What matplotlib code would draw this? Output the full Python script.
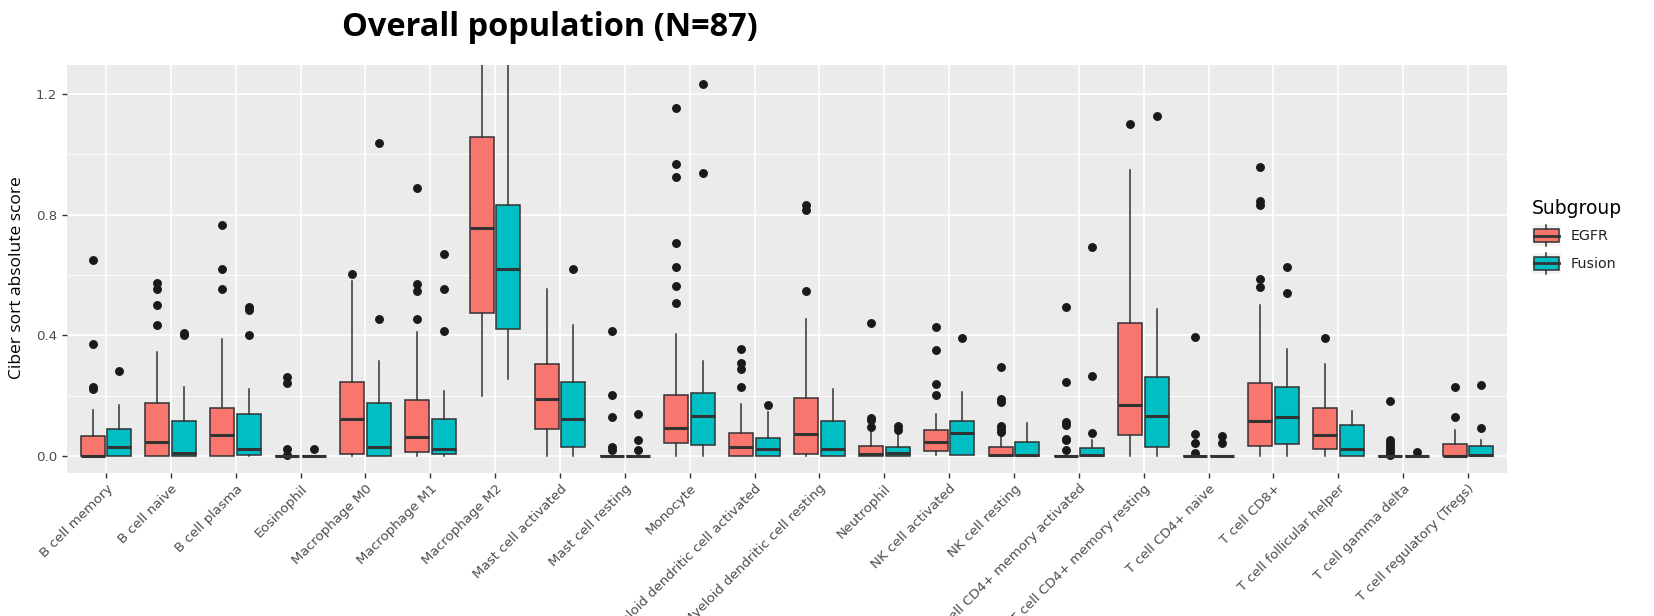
import matplotlib
matplotlib.use("Agg")
import matplotlib.pyplot as plt
from matplotlib.patches import Rectangle, Patch
from matplotlib.lines import Line2D
from matplotlib.legend_handler import HandlerBase
from matplotlib.ticker import MultipleLocator

categories = ["B cell memory", "B cell naive", "B cell plasma", "Eosinophil",
              "Macrophage M0", "Macrophage M1", "Macrophage M2", "Mast cell activated",
              "Mast cell resting", "Monocyte", "Myeloid dendritic cell activated",
              "Myeloid dendritic cell resting", "Neutrophil", "NK cell activated",
              "NK cell resting", "T cell CD4+ memory activated", "T cell CD4+ memory resting",
              "T cell CD4+ naive", "T cell CD8+", "T cell follicular helper",
              "T cell gamma delta", "T cell regulatory (Tregs)"]

groups = ["EGFR", "Fusion"]
group_colors = ["#F8766D", "#00BFC4"]

# EGFR box statistics
egfr_lo  = [0, 0, 0, 0, 0, 0, 0.199, 0, 0, 0, 0, 0, 0, 0.003, 0, 0, 0, 0, 0, 0, 0, 0]
egfr_q1  = [0, 0, 0, 0, 0.007, 0.014, 0.475, 0.091, 0, 0.042, 0, 0.007, 0, 0.018, 0, 0, 0.069, 0, 0.033, 0.022, 0, 0]
egfr_med = [0.0, 0.048, 0.071, 0, 0.122, 0.062, 0.757, 0.188, 0, 0.094, 0.031, 0.072, 0.006, 0.048, 0.003, 0, 0.17, 0, 0.115, 0.069, 0, 0.0]
egfr_q3  = [0.066, 0.175, 0.158, 0, 0.245, 0.186, 1.056, 0.305, 0, 0.201, 0.077, 0.194, 0.034, 0.086, 0.029, 0, 0.442, 0, 0.241, 0.159, 0, 0.04]
egfr_hi  = [0.152, 0.345, 0.389, 0, 0.58, 0.411, 1.45, 0.555, 0, 0.404, 0.172, 0.453, 0.085, 0.141, 0.07, 0, 0.948, 0, 0.502, 0.305, 0, 0.086]
egfr_out = [[0.65, 0.373, 0.23, 0.224],
            [0.575, 0.555, 0.5, 0.433],
            [0.765, 0.62, 0.555],
            [0.263, 0.241, 0.025, 0.003],
            [0.605],
            [0.888, 0.57, 0.546, 0.455],
            [],
            [],
            [0.413, 0.203, 0.13, 0.029, 0.02],
            [1.154, 0.968, 0.926, 0.705, 0.625, 0.564, 0.506],
            [0.354, 0.307, 0.287, 0.23],
            [0.833, 0.815, 0.548],
            [0.442, 0.126, 0.12, 0.095],
            [0.427, 0.351, 0.239, 0.203],
            [0.294, 0.19, 0.18, 0.1, 0.09, 0.08],
            [0.495, 0.245, 0.114, 0.103, 0.058, 0.053, 0.02],
            [1.1],
            [0.396, 0.073, 0.042, 0.009],
            [0.959, 0.846, 0.832, 0.586, 0.561],
            [0.391],
            [0.181, 0.055, 0.045, 0.035, 0.025, 0.015, 0.005],
            [0.23, 0.13]]

# Fusion box statistics
fusion_lo  = [0, 0, 0, 0, 0, 0, 0.254, 0, 0, 0, 0, 0, 0, 0.003, 0, 0, 0, 0, 0, 0, 0, 0]
fusion_q1  = [0, 0, 0.003, 0, 0, 0.007, 0.42, 0.031, 0, 0.036, 0, 0, 0, 0.003, 0, 0, 0.031, 0, 0.04, 0, 0, 0]
fusion_med = [0.029, 0.009, 0.023, 0, 0.029, 0.025, 0.62, 0.122, 0, 0.133, 0.024, 0.024, 0.009, 0.075, 0.003, 0.003, 0.133, 0, 0.13, 0.024, 0, 0.002]
fusion_q3  = [0.091, 0.116, 0.139, 0, 0.175, 0.124, 0.832, 0.245, 0, 0.208, 0.061, 0.117, 0.029, 0.115, 0.046, 0.027, 0.261, 0, 0.23, 0.104, 0, 0.035]
fusion_hi  = [0.168, 0.23, 0.224, 0, 0.316, 0.217, 1.40, 0.433, 0, 0.314, 0.146, 0.224, 0.075, 0.214, 0.11, 0.055, 0.488, 0, 0.356, 0.148, 0, 0.055]
fusion_out = [[0.283],
              [0.409, 0.40],
              [0.495, 0.484, 0.40],
              [0.022],
              [1.039, 0.453],
              [0.67, 0.555, 0.413],
              [],
              [0.62],
              [0.141, 0.055, 0.02],
              [1.232, 0.939],
              [0.17],
              [],
              [0.1, 0.088],
              [0.393],
              [],
              [0.692, 0.267, 0.077],
              [1.127],
              [0.066, 0.044],
              [0.625, 0.541],
              [],
              [0.013],
              [0.236, 0.093]]

title_text = "Overall population (N=87)"
y_label = "Ciber sort absolute score"
legend_title = "Subgroup"
y_ticks = [0.0, 0.4, 0.8, 1.2]

W, H = 1654, 616
fig = plt.figure(figsize=(W / 100, H / 100), dpi=100)
ax = fig.add_axes([67 / W, 1 - 473 / H, (1507 - 67) / W, (473 - 65) / H])
ax.set_facecolor("#EBEBEB")
for s in ax.spines.values():
    s.set_visible(False)

ink = "#333333"


def make_stats(lo, q1, med, q3, hi, out):
    return [dict(whislo=lo[i], q1=q1[i], med=med[i], q3=q3[i], whishi=hi[i], fliers=out[i])
            for i in range(len(lo))]


stats_sets = [make_stats(egfr_lo, egfr_q1, egfr_med, egfr_q3, egfr_hi, egfr_out),
              make_stats(fusion_lo, fusion_q1, fusion_med, fusion_q3, fusion_hi, fusion_out)]
offsets = [-0.205, 0.205]
box_w = 0.37

for gi, st in enumerate(stats_sets):
    pos = [i + offsets[gi] for i in range(len(categories))]
    ax.bxp(st, positions=pos, widths=box_w, patch_artist=True, showcaps=False,
           manage_ticks=False,
           boxprops=dict(facecolor=group_colors[gi], edgecolor=ink, linewidth=1.1),
           medianprops=dict(color=ink, linewidth=2.2, solid_capstyle="butt"),
           whiskerprops=dict(color=ink, linewidth=1.1),
           flierprops=dict(marker="o", markerfacecolor="#1a1a1a", markeredgecolor="#1a1a1a",
                           markersize=5.4, linestyle="none"),
           zorder=3)

ax.set_xlim(-0.6, len(categories) - 0.4)
ax.set_ylim(-0.056, 1.296)
ax.set_yticks(y_ticks)
ax.set_yticklabels([f"{v:.1f}" for v in y_ticks])
ax.yaxis.set_minor_locator(MultipleLocator(0.2))
ax.set_xticks(range(len(categories)))
ax.set_xticklabels(categories, rotation=45, ha="right", rotation_mode="anchor")

ax.grid(which="major", color="white", linewidth=1.2, zorder=0)
ax.grid(which="minor", axis="y", color="white", linewidth=0.6, zorder=0)
ax.set_axisbelow(True)
ax.tick_params(axis="both", which="major", length=3.5, width=1.0, color=ink,
               labelsize=9.6, labelcolor="#4D4D4D")
ax.tick_params(axis="y", which="minor", length=0)
ax.tick_params(axis="x", pad=3)

ax.set_ylabel(y_label, fontsize=12.5, color="black", family=["Open Sans", "DejaVu Sans"])
ax.yaxis.set_label_coords(-0.029, 0.48)

fig.text(550 / W, 1 - 28 / H, title_text, ha="center", va="center", fontsize=23.4,
         fontweight="bold", family=["Open Sans", "DejaVu Sans"])


class BoxHandler(HandlerBase):
    def create_artists(self, legend, orig_handle, xdescent, ydescent, width, height,
                       fontsize, trans):
        fc = orig_handle.get_facecolor()
        x0, y0 = -xdescent, -ydescent
        bg = Rectangle((x0, y0), width, height, facecolor="#F2F2F2", edgecolor="none",
                       transform=trans)
        bx = Rectangle((x0 + 0.06 * width, y0 + 0.2 * height), 0.88 * width, 0.6 * height,
                       facecolor=fc, edgecolor=ink, linewidth=1.1, transform=trans)
        cx = x0 + width / 2
        w1 = Line2D([cx, cx], [y0, y0 + 0.2 * height], color=ink, lw=1.1, transform=trans)
        w2 = Line2D([cx, cx], [y0 + 0.8 * height, y0 + height], color=ink, lw=1.1,
                    transform=trans)
        md = Line2D([x0 + 0.06 * width, x0 + 0.94 * width], [y0 + height / 2] * 2, color=ink,
                    lw=2.0, transform=trans)
        return [bg, bx, w1, w2, md]


handles = [Patch(facecolor=c, label=g) for g, c in zip(groups, group_colors)]
leg = fig.legend(handles=handles, labels=groups, loc="upper left",
                 bbox_to_anchor=(1532 / W, 1 - 199 / H), frameon=False,
                 title=legend_title, title_fontsize=13.5, fontsize=10.3,
                 handler_map={Patch: BoxHandler()}, handlelength=2.0, handleheight=1.85,
                 handletextpad=0.7, labelspacing=0.5, borderaxespad=0, borderpad=0)
leg._legend_box.align = "left"
for t in leg.get_texts():
    t.set_color("#222222")

fig.savefig("out.png", dpi=100)
